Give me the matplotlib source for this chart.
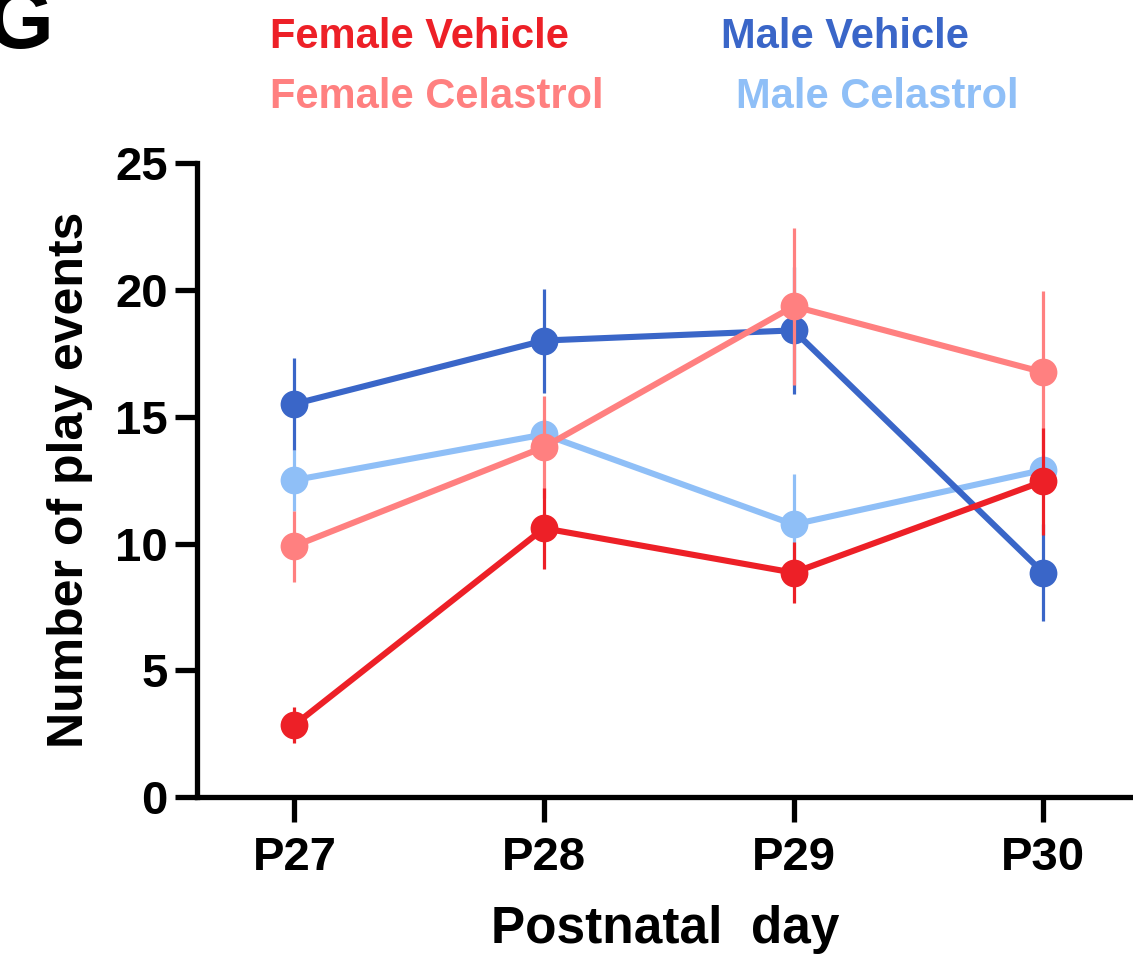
import matplotlib.pyplot as plt

plt.rcParams["font.family"] = ["Liberation Sans", "DejaVu Sans"]
plt.rcParams["font.weight"] = "bold"

days = [27, 28, 29, 30]
day_labels = ["P27", "P28", "P29", "P30"]

# mean and SEM of play events per group
male_cel = [12.5, 14.3, 10.75, 12.9]
male_cel_err = [1.2, 0.6, 2.0, 0.6]
male_veh = [15.5, 18.0, 18.4, 8.85]
male_veh_err = [1.8, 2.05, 2.5, 1.9]
female_cel = [9.9, 13.8, 19.35, 16.75]
female_cel_err = [1.4, 2.0, 3.1, 3.2]
female_veh = [2.85, 10.6, 8.85, 12.45]
female_veh_err = [0.7, 1.6, 1.2, 2.1]

groups = [
    ("Male Celastrol", male_cel, male_cel_err, "#8fbff7"),
    ("Male Vehicle", male_veh, male_veh_err, "#3a66c8"),
    ("Female Celastrol", female_cel, female_cel_err, "#ff8080"),
    ("Female Vehicle", female_veh, female_veh_err, "#ed2027"),
]

fig = plt.figure(figsize=(11.33, 9.64), dpi=100)
ax = fig.add_axes([0.174, 0.173, 0.826, 0.658])

for i, (name, y, err, color) in enumerate(groups):
    ax.errorbar(days, y, yerr=err, color=color, linewidth=4.4,
                elinewidth=2.3, capsize=0, marker="o", markersize=20,
                markeredgewidth=0, zorder=3 + i)

ax.set_xlim(26.61, 30.36)
ax.set_ylim(0, 25)
ax.set_xticks(days)
ax.set_xticklabels(day_labels)
ax.set_yticks([0, 5, 10, 15, 20, 25])

for side in ["top", "right"]:
    ax.spines[side].set_visible(False)
for side in ["left", "bottom"]:
    ax.spines[side].set_linewidth(3.8)
    ax.spines[side].set_capstyle("projecting")

ax.tick_params(axis="x", length=18, width=3.8, pad=10, labelsize=34)
ax.tick_params(axis="y", length=16, width=3.8, pad=5, labelsize=34)
for lbl in ax.get_xticklabels() + ax.get_yticklabels():
    lbl.set_fontweight("bold")

ax.set_xlabel("Postnatal  day", fontsize=37, fontweight="bold", labelpad=18)
ax.set_ylabel("Number of play events", fontsize=36, fontweight="bold",
              labelpad=16)

# group key above the plot
fig.text(0.238, 0.962, "Female Vehicle", color="#ed2027", fontsize=30,
         fontweight="bold", va="center")
fig.text(0.238, 0.899, "Female Celastrol", color="#ff8080", fontsize=30,
         fontweight="bold", va="center")
fig.text(0.636, 0.962, "Male Vehicle", color="#3a66c8", fontsize=30,
         fontweight="bold", va="center")
fig.text(0.650, 0.899, "Male Celastrol", color="#8fbff7", fontsize=30,
         fontweight="bold", va="center")

fig.text(-0.012, 1.015, "G", fontsize=62, fontweight="bold", va="top")

fig.savefig("out.png", dpi=100)
